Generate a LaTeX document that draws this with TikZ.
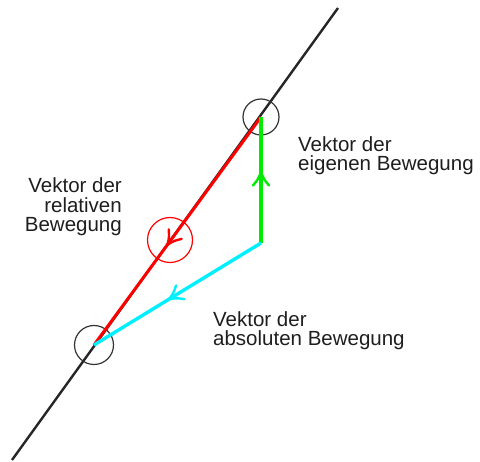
\documentclass[tikz,border=0pt]{standalone}
\usepackage{fontspec}
\setmainfont{Liberation Sans}
\usetikzlibrary{decorations.markings}
\definecolor{vred}{RGB}{255,0,0}
\definecolor{vgreen}{RGB}{0,235,0}
\definecolor{vcyan}{RGB}{0,240,255}
\definecolor{txt}{RGB}{30,30,30}
\tikzset{
  lbl/.style={inner sep=0pt, text=txt, font=\fontsize{20.5}{19}\selectfont},
  ring/.style={circle, draw, line width=1.2pt, inner sep=0pt},
  vecarrow/.style={postaction={decorate}, decoration={markings,
      mark=at position #1 with {\draw[line width=2.4pt, line cap=round, line join=round]
        (-13pt,8pt) .. controls (-7pt,3pt) .. (0pt,0pt) .. controls (-7pt,-3pt) .. (-13pt,-8pt);}}}
}
\begin{document}
\begin{tikzpicture}[x=1pt,y=-1pt]
\useasboundingbox (0,0) rectangle (480,462);
% key points
\coordinate (lt) at (338,8);
\coordinate (lb) at (12,460);
\coordinate (ptop) at (261,117);
\coordinate (pbot) at (94,345);
\coordinate (pbase) at (261,243);
% line
\draw[line width=2.4pt, black!85] (lb) -- (lt);
% circles
\node[ring, black!80, minimum size=36pt] (ctop) at (ptop) {};
\node[ring, black!80, minimum size=39pt] (cbot) at (pbot) {};
% vectors
\draw[vred, line width=3pt, vecarrow=0.56] (ptop) -- (pbot);
\draw[vgreen, line width=3.4pt, vecarrow=0.56] (pbase) -- (ptop);
\draw[vcyan, line width=3.4pt, vecarrow=0.55] (pbase) -- (pbot);
\node[ring, vred, minimum size=45pt] (cred) at (170,240) {};
% labels
\node[lbl, anchor=base west] (e1) at (298,152) {Vektor der};
\node[lbl, anchor=base west] (e2) at (298,170.5) {eigenen Bewegung};
\node[lbl, anchor=base east] (r1) at (122,193) {Vektor der};
\node[lbl, anchor=base east] (r2) at (122,212.5) {relativen};
\node[lbl, anchor=base east] (r3) at (122,232) {Bewegung};
\node[lbl, anchor=base west] (a1) at (213,327) {Vektor der};
\node[lbl, anchor=base west] (a2) at (213,345.5) {absoluten Bewegung};
\end{tikzpicture}
\end{document}
